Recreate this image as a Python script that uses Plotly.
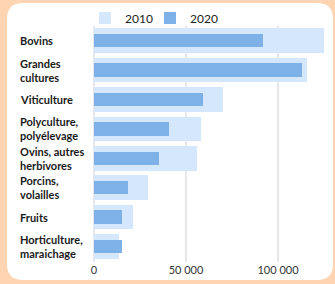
import plotly.graph_objects as go

categories = ["Bovins", "Grandes<br>cultures", "Viticulture", "Polyculture,<br>polyélevage",
              "Ovins, autres<br>herbivores", "Porcins,<br>volailles", "Fruits", "Horticulture,<br>maraichage"]
values_2010 = [125000, 115600, 70300, 58200, 55800, 29200, 21400, 13800]
values_2020 = [91700, 112900, 59000, 40800, 35500, 18600, 15200, 15200]
tick_vals = [0, 50000, 100000]
tick_text = ["0", "50 000", "100 000"]

W, H = 335, 284
ML, MR, MT, MB = 94, 5, 26, 22
PW = W - ML - MR
PH = H - MT - MB

def px_x(px):
    return (px - ML) / PW

def px_y(py):
    return (H - MB - py) / PH

fig = go.Figure()
fig.add_trace(go.Bar(y=categories, x=values_2010, orientation="h", name="2010",
                     marker=dict(color="#D4E7FC", line=dict(width=0)), width=0.84,
                     legend="legend"))
fig.add_trace(go.Bar(y=categories, x=values_2020, orientation="h", name="2020",
                     marker=dict(color="#7DB1E8", line=dict(width=0)), width=0.46,
                     legend="legend2"))

# rounded card
x0, x1, y0, y1, r = 7, 333, 3, 280, 16
def P(x, y):
    return f"{px_x(x):.5f},{px_y(y):.5f}"
path = (f"M {P(x0 + r, y0)} L {P(x1 - r, y0)} Q {P(x1, y0)} {P(x1, y0 + r)} "
        f"L {P(x1, y1 - r)} Q {P(x1, y1)} {P(x1 - r, y1)} L {P(x0 + r, y1)} "
        f"Q {P(x0, y1)} {P(x0, y1 - r)} L {P(x0, y0 + r)} Q {P(x0, y0)} {P(x0 + r, y0)} Z")
fig.add_shape(type="path", xref="paper", yref="paper", path=path,
              fillcolor="white", line=dict(width=0), layer="below")

for c in categories:
    fig.add_annotation(x=px_x(18), xref="paper", y=c, yref="y", text=c, showarrow=False,
                       xanchor="left", yanchor="middle", align="left",
                       font=dict(family="Lato", size=11, color="#1A1A1A", weight="bold"))

legend_style = dict(orientation="h", xanchor="left", y=px_y(18), yanchor="middle",
                    font=dict(family="Lato", size=12, color="#222"), bgcolor="rgba(0,0,0,0)",
                    itemwidth=30)

fig.update_layout(
    width=W, height=H, margin=dict(l=ML, r=MR, t=MT, b=MB, autoexpand=False),
    paper_bgcolor="#FFD4B2", plot_bgcolor="rgba(0,0,0,0)",
    barmode="overlay", bargap=0,
    showlegend=True,
    legend=dict(x=px_x(85), **legend_style),
    legend2=dict(x=px_x(150), **legend_style),
    xaxis=dict(range=[0, (W - MR - ML) / 92 * 50000], tickvals=tick_vals, ticktext=tick_text,
               showgrid=True, gridcolor="#E6E6EF", gridwidth=1.5, zeroline=True,
               zerolinecolor="#E6E6EF", zerolinewidth=1.5, automargin=False,
               tickfont=dict(family="Lato", size=11, color="#333"), ticks="", fixedrange=True),
    yaxis=dict(autorange="reversed", showticklabels=False, showgrid=False, ticks="",
               automargin=False, fixedrange=True),
)

fig.write_html("out.html", config={"displayModeBar": False},
               post_script="document.body.style.margin='0';document.body.style.overflow='hidden';")
